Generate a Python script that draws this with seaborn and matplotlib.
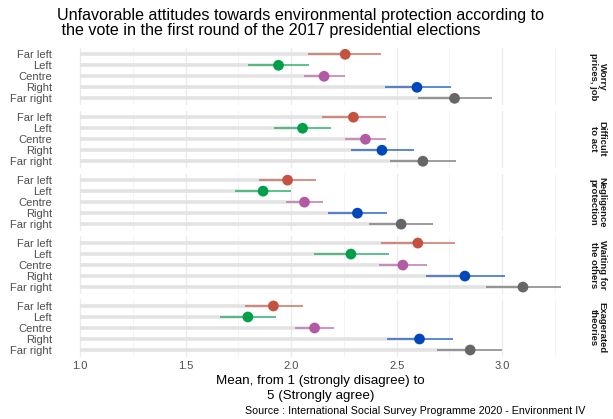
import numpy as np
import pandas as pd
import matplotlib
matplotlib.use("Agg")
import matplotlib.pyplot as plt
from matplotlib.ticker import MultipleLocator
import seaborn as sns

# Data
votes = ["Far left", "Left", "Centre", "Right", "Far right"]
facets = ["Worry\nprices, job", "Difficult\nto act", "Negligence\nprotection",
          "Waiting for\nthe others", "Exagerated\ntheories"]

mean_worry = [2.256, 1.940, 2.156, 2.596, 2.774]
low_worry = [2.082, 1.795, 2.062, 2.445, 2.603]
high_worry = [2.427, 2.085, 2.253, 2.755, 2.951]

mean_difficult = [2.295, 2.054, 2.352, 2.430, 2.624]
low_difficult = [2.145, 1.921, 2.256, 2.283, 2.466]
high_difficult = [2.449, 2.188, 2.449, 2.580, 2.781]

mean_negligence = [1.983, 1.867, 2.063, 2.314, 2.521]
low_negligence = [1.850, 1.735, 1.975, 2.174, 2.371]
high_negligence = [2.117, 2.000, 2.153, 2.453, 2.673]

mean_waiting = [2.600, 2.283, 2.529, 2.823, 3.098]
low_waiting = [2.425, 2.106, 2.414, 2.638, 2.921]
high_waiting = [2.777, 2.464, 2.643, 3.014, 3.278]

mean_theories = [1.916, 1.795, 2.111, 2.608, 2.848]
low_theories = [1.779, 1.664, 2.019, 2.453, 2.693]
high_theories = [2.055, 1.927, 2.204, 2.766, 2.998]

means = [mean_worry, mean_difficult, mean_negligence, mean_waiting, mean_theories]
lows = [low_worry, low_difficult, low_negligence, low_waiting, low_theories]
highs = [high_worry, high_difficult, high_negligence, high_waiting, high_theories]

palette = {"Far left": "#c4523f", "Left": "#00a04b", "Centre": "#b35aa5",
           "Right": "#0047bb", "Far right": "#666666"}

rows = []
for f, m, lo, hi in zip(facets, means, lows, highs):
    for v, a, b, c in zip(votes, m, lo, hi):
        rows.append({"facet": f, "vote": v, "mean": a, "low": b, "high": c})
df = pd.DataFrame(rows)

sns.set_theme(style="white")
plt.rcParams["font.family"] = ["Liberation Sans", "DejaVu Sans"]

# x range with ggplot-like 5% expansion
x_lo = 1.0
x_hi = df["high"].max()
pad = 0.05 * (x_hi - x_lo)

fig, axes = plt.subplots(5, 1, figsize=(6.13, 4.19), dpi=100, sharex=True)
fig.subplots_adjust(left=56 / 613, right=585 / 613,
                    top=1 - 47.7 / 419, bottom=1 - 356.6 / 419, hspace=0.0997)

for ax, f in zip(axes, facets):
    sub = df[df["facet"] == f]
    sns.scatterplot(data=sub, x="mean", y="vote", hue="vote", palette=palette,
                    s=60, linewidth=0, legend=False, ax=ax, zorder=4)
    # grey bar from 1 to the mean
    ax.hlines(y=sub["vote"], xmin=1.0, xmax=sub["mean"], color="#e3e3e3",
              linewidth=2.6, zorder=2)
    # confidence intervals
    for _, r in sub.iterrows():
        ax.hlines(y=r["vote"], xmin=r["low"], xmax=r["high"],
                  color=palette[r["vote"]], alpha=0.75, linewidth=1.2, zorder=3)

    ax.set_ylim(4.6, -0.6)
    ax.set_xlim(x_lo - pad, x_hi + pad)
    ax.xaxis.set_major_locator(MultipleLocator(0.5))
    ax.xaxis.set_minor_locator(MultipleLocator(0.25))
    ax.grid(axis="x", which="major", color="#ebebeb", linewidth=0.9, zorder=0)
    ax.grid(axis="x", which="minor", color="#f3f3f3", linewidth=0.6, zorder=0)
    ax.grid(axis="y", visible=False)
    ax.set_axisbelow(True)
    for s in ax.spines.values():
        s.set_visible(False)
    ax.tick_params(axis="both", which="both", length=0, labelsize=8,
                   labelcolor="#4d4d4d", pad=3)
    ax.set_ylabel("")
    ax.set_xlabel("")
    ax.text(1.024, 0.5, f, transform=ax.transAxes, rotation=270,
            ha="center", va="center", fontsize=6.8, fontweight="bold",
            color="#1a1a1a", linespacing=1.0)

axes[-1].tick_params(axis="x", pad=3)
axes[-1].set_xlabel("Mean, from 1 (strongly disagree) to\n5 (Strongly agree)",
                    fontsize=9.6, color="black", labelpad=3, linespacing=1.35)

fig.text(57 / 613, 1 - 8 / 419,
         "Unfavorable attitudes towards environmental protection according to\n"
         " the vote in the first round of the 2017 presidential elections",
         ha="left", va="top", fontsize=11.6, color="black", linespacing=1.0)
fig.text(585 / 613, 1 - 411 / 419,
         "Source : International Social Survey Programme 2020 - Environment IV",
         ha="right", va="center", fontsize=7.7, color="black")

fig.savefig("out.png", dpi=100)
